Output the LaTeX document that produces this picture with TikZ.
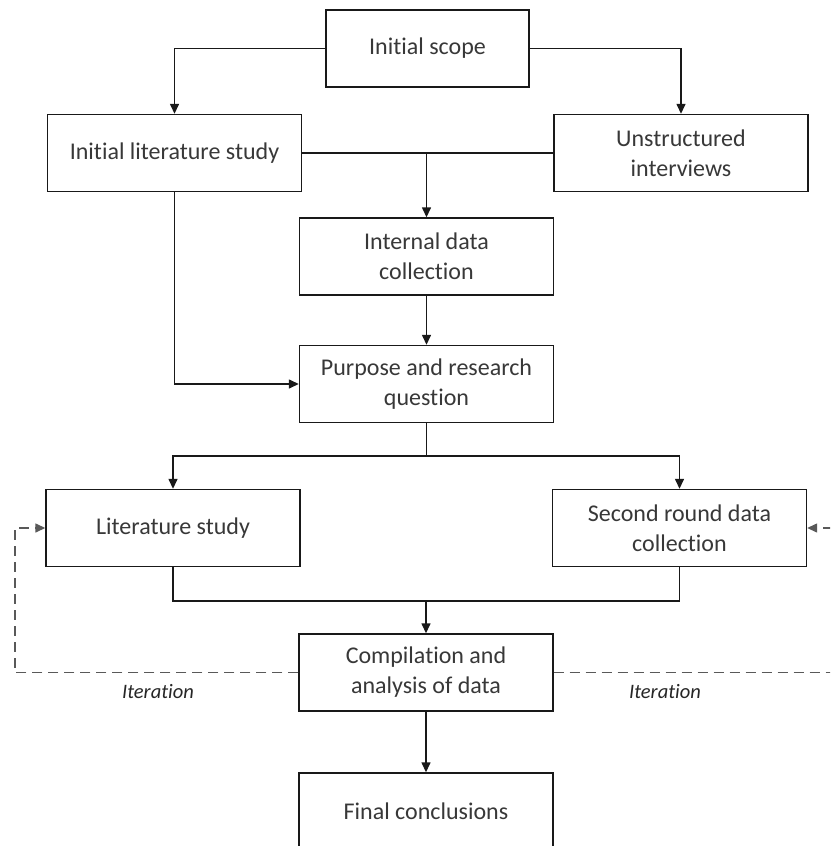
\documentclass[tikz,border=0pt]{standalone}
\usepackage{fontspec}
\setmainfont{Carlito}[Ligatures=NoCommon]
\usetikzlibrary{arrows.meta}
\begin{document}
\begin{tikzpicture}[x=1pt,y=-1pt,
  box/.style={draw=black!90, line width=1.4pt, minimum width=254pt, minimum height=77pt,
    inner sep=0pt, align=center, text=black!78, font=\fontsize{24}{30}\selectfont},
  link/.style={draw=black!90, line width=1.4pt},
  arr/.style={link, -{Triangle[length=10pt,width=9pt]}},
  loop/.style={draw=black!65, line width=1.4pt, dash pattern=on 10pt off 6pt},
  looparr/.style={loop, -{Triangle[length=10pt,width=9pt]}},
  note/.style={text=black!85, font=\fontsize{20.5}{24}\selectfont\itshape}]
\clip (0,0) rectangle (830,846);
\fill[white] (0,0) rectangle (830,846);

% boxes
\node[box, minimum width=203pt] (scope) at (427.5,48.5) {Initial scope};
\node[box] (ilit) at (174.5,153) {Initial literature study};
\node[box] (unst) at (681,153) {Unstructured\\interviews};
\node[box] (internal) at (426.5,256.5) {Internal data\\collection};
\node[box] (purpose) at (426.5,384) {Purpose and research\\question};
\node[box] (lit) at (173,528) {Literature study};
\node[box] (second) at (679.5,528) {Second round data\\collection};
\node[box] (comp) at (426,672.5) {Compilation and\\analysis of data};
\node[box] (final) at (426,811.5) {Final conclusions};

% junction points
\coordinate (split) at (426.5,456);
\coordinate (merge) at (426,601);
\coordinate (lcorner) at (15,672.5);
\coordinate (rcorner) at (845,672.5);

% main flow
\draw[arr] (scope.west) -| (ilit.north);
\draw[arr] (scope.east) -| (unst.north);
\draw[link] (ilit.east) -- (unst.west);
\draw[arr] (ilit.east -| internal.north) -- (internal.north);
\draw[arr] (internal.south) -- (purpose.north);
\draw[arr] (ilit.south) |- (purpose.west);
\draw[link] (purpose.south) -- (split);
\draw[arr] (split) -| (lit.north);
\draw[arr] (split) -| (second.north);
\draw[link] (lit.south) |- (merge);
\draw[link] (second.south) |- (merge);
\draw[arr] (merge) -- (comp.north);
\draw[arr] (comp.south) -- (final.north);

% iteration loops
\draw[looparr] (comp.west) -- (lcorner) |- (lit.west);
\draw[looparr] (comp.east) -- (rcorner) |- (second.east);
\node[note] (iterl) at (158,692) {Iteration};
\node[note] (iterr) at (665,692) {Iteration};
\end{tikzpicture}
\end{document}
